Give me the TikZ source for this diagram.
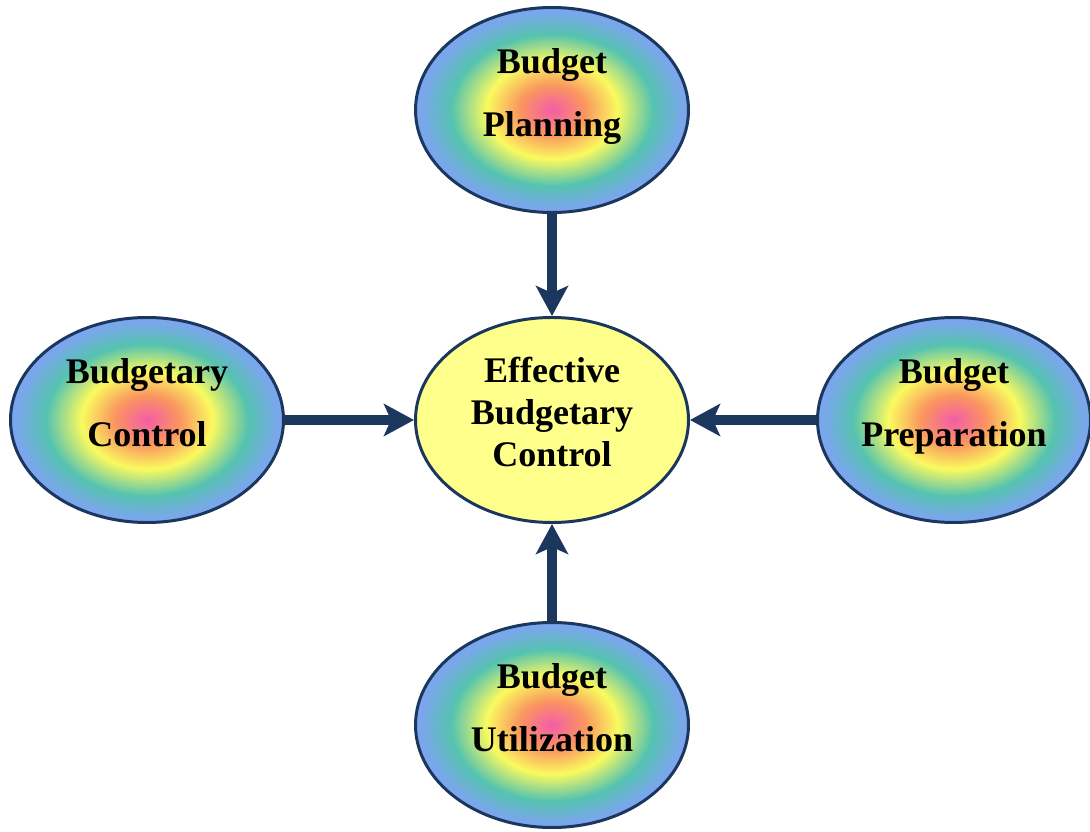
\documentclass[tikz,border=0pt]{standalone}
\usepackage{fontspec}
\setmainfont{Liberation Serif}
\usetikzlibrary{arrows.meta, shapes.geometric}
\definecolor{navy}{RGB}{27,55,94}
\definecolor{hubyellow}{RGB}{255,255,140}
\definecolor{hpink}{RGB}{244,92,168}
\definecolor{horange}{RGB}{250,150,95}
\definecolor{hyellow}{RGB}{250,250,95}
\definecolor{hteal}{RGB}{85,195,175}
\definecolor{hblue}{RGB}{122,166,236}
% the path box takes the inner 50bp of the shading
\pgfdeclareradialshading{halo}{\pgfpoint{0bp}{0bp}}{%
  color(0bp)=(hpink); color(6bp)=(horange); color(12bp)=(hyellow);
  color(18.5bp)=(hteal); color(24bp)=(hblue); color(50bp)=(hblue)}
\tikzset{
  bubble/.style  = {ellipse, draw=navy, line width=1.7pt, shading=halo,
                    minimum width=5.46cm, minimum height=4.1cm, inner sep=0pt},
  hub/.style     = {ellipse, draw=navy, line width=1.7pt, fill=hubyellow,
                    minimum width=5.46cm, minimum height=4.1cm, inner sep=0pt},
  caption/.style = {align=center, text depth=0pt, inner sep=0pt,
                    font=\fontsize{20.5}{36}\selectfont\bfseries},
  link/.style    = {->, navy, line width=6pt}
}

\begin{document}
\begin{tikzpicture}[>={Stealth[length=0.6cm, width=0.64cm, inset=0.14cm]}]
  \useasboundingbox (0,0) rectangle (21.8,16.62);

  \node[hub] (eff) at (11.04,8.22) {};

  \node[bubble] (plan) at (11.04,14.42) {};
  \node[bubble] (ctrl) at (2.94,8.22) {};
  \node[bubble] (prep) at (19.08,8.22) {};
  \node[bubble] (util) at (11.04,2.12) {};

  \node[caption, font=\fontsize{20.5}{24}\selectfont\bfseries] (efftext)
    at ([yshift=0.16cm]eff.center) {Effective\\Budgetary\\Control};
  \node[caption] (plantext) at ([yshift=0.35cm]plan.center) {Budget\\Planning};
  \node[caption] (ctrltext) at ([yshift=0.35cm]ctrl.center) {Budgetary\\Control};
  \node[caption] (preptext) at ([yshift=0.35cm]prep.center) {Budget\\Preparation};
  \node[caption] (utiltext) at ([yshift=0.35cm]util.center) {Budget\\Utilization};

  % arrows into the centre
  \foreach \src in {plan,ctrl,prep,util}
    \draw[link] (\src) -- (eff);
\end{tikzpicture}
\end{document}
